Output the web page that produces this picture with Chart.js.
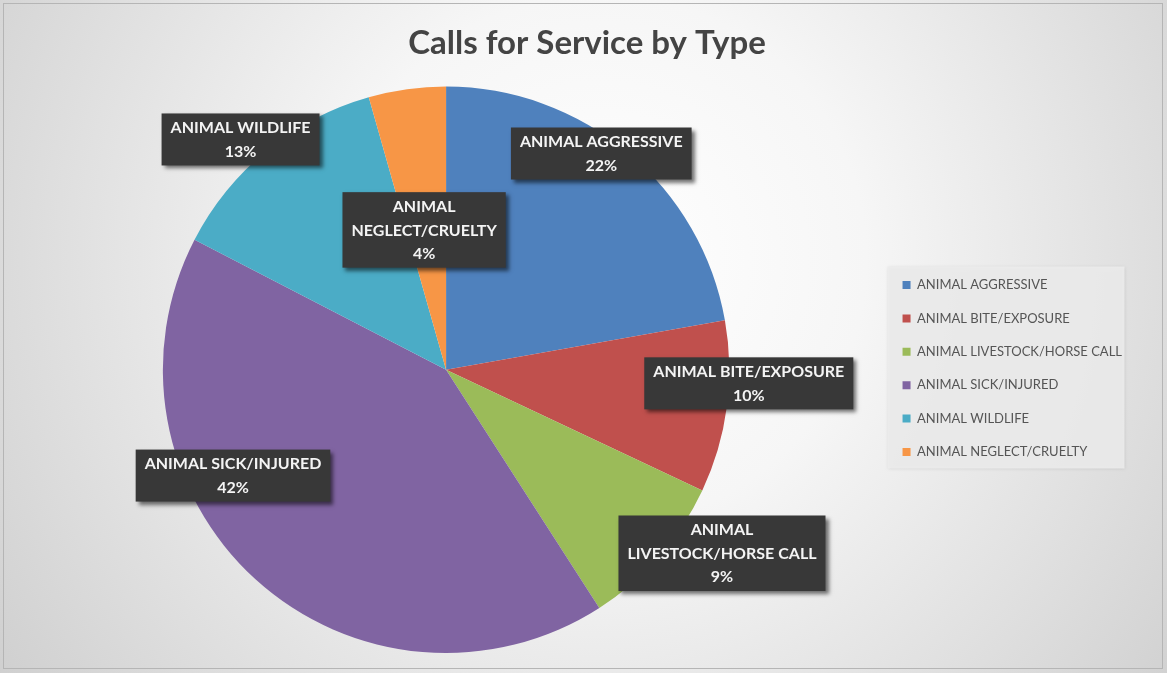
<!DOCTYPE html>
<html>
<head>
<meta charset="utf-8">
<script src="https://cdn.jsdelivr.net/npm/chart.js@4.4.1/dist/chart.umd.min.js"></script>
<style>
  html, body { margin: 0; padding: 0; background: #fff; }
  #wrap { width: 1167px; height: 673px; position: relative; }
</style>
</head>
<body>
<div id="wrap"><canvas id="pie" width="1167" height="673"></canvas></div>
<script>
// categories and values (share of calls, percent)
const tipos = ['ANIMAL AGGRESSIVE', 'ANIMAL BITE/EXPOSURE', 'ANIMAL LIVESTOCK/HORSE CALL',
               'ANIMAL SICK/INJURED', 'ANIMAL WILDLIFE', 'ANIMAL NEGLECT/CRUELTY'];
const valores = [22.2, 9.8, 8.9, 41.7, 13.0, 4.4];
// how the data labels break into lines (percent line is added below)
const rotulos = [
    ['ANIMAL AGGRESSIVE'],
    ['ANIMAL BITE/EXPOSURE'],
    ['ANIMAL', 'LIVESTOCK/HORSE CALL'],
    ['ANIMAL SICK/INJURED'],
    ['ANIMAL WILDLIFE'],
    ['ANIMAL', 'NEGLECT/CRUELTY']
];
const cores = ['#4f81bd', '#c0504d', '#9bbb59', '#8064a2', '#4bacc6', '#f79646'];
// label placement: fraction of radius, angle nudge in degrees
const rotuloDist = [0.94, 1.07, 1.17, 0.84, 1.09, 0.50];
const rotuloAng = [-4.3, -5, -7.6, 21.3, -2.5, -1];

const total = valores.reduce((a, b) => a + b, 0);

const fundo = {
    id: 'fundo',
    afterLayout(chart) {
        // title sits a bit right of the canvas middle
        chart.titleBlock.left += 16;
        chart.titleBlock.right += 16;
    },
    beforeDraw(chart) {
        const c = chart.ctx;
        const g = c.createRadialGradient(600, 260, 0, 600, 260, 760);
        g.addColorStop(0, '#ffffff');
        g.addColorStop(0.35, '#f6f6f6');
        g.addColorStop(1, '#cdcdcd');
        c.save();
        c.fillStyle = g;
        c.fillRect(0, 0, chart.width, chart.height);
        c.strokeStyle = '#b5b5b5';
        c.lineWidth = 1;
        c.strokeRect(3.5, 3.5, chart.width - 8, chart.height - 8);
        // legend background
        const lg = chart.legend;
        if (lg && lg.legendHitBoxes.length) {
            const hb = lg.legendHitBoxes;
            const x0 = hb[0].left - 15;
            const y0 = hb[0].top - 12;
            const y1 = hb[hb.length - 1].top + hb[hb.length - 1].height + 10;
            c.fillStyle = 'rgba(236,236,236,0.9)';
            c.shadowColor = 'rgba(0,0,0,0.15)';
            c.shadowBlur = 3;
            c.fillRect(x0, y0, 237, y1 - y0);
        }
        c.restore();
    }
};

const rotulosPlugin = {
    id: 'rotulos',
    afterDatasetsDraw(chart) {
        const c = chart.ctx;
        const arcs = chart.getDatasetMeta(0).data;
        c.save();
        c.font = 'bold 16px Lato';
        c.textAlign = 'center';
        c.textBaseline = 'middle';
        arcs.forEach((arc, i) => {
            const p = arc.getProps(['x', 'y', 'startAngle', 'endAngle', 'outerRadius'], true);
            const meio = (p.startAngle + p.endAngle) / 2 + rotuloAng[i] * Math.PI / 180;
            const cx = p.x + Math.cos(meio) * p.outerRadius * rotuloDist[i];
            const cy = p.y + Math.sin(meio) * p.outerRadius * rotuloDist[i];
            const linhas = rotulos[i].concat([Math.round(valores[i] / total * 100) + '%']);
            const lh = 23.5;
            let w = 0;
            linhas.forEach(t => { w = Math.max(w, c.measureText(t).width); });
            w += 18;
            const h = linhas.length * lh + 5;
            c.shadowColor = 'rgba(0,0,0,0.55)';
            c.shadowBlur = 4;
            c.shadowOffsetX = 3;
            c.shadowOffsetY = 3;
            c.fillStyle = '#383838';
            c.fillRect(cx - w / 2, cy - h / 2, w, h);
            c.shadowColor = 'transparent';
            c.fillStyle = '#f4f4f4';
            linhas.forEach((t, k) => {
                c.fillText(t, cx, cy - h / 2 + 3 + lh * (k + 0.5));
            });
        });
        c.restore();
    }
};

new Chart(document.getElementById('pie'), {
    type: 'pie',
    data: {
        labels: tipos,
        datasets: [{
            data: valores,
            backgroundColor: cores,
            borderWidth: 0,
            hoverOffset: 0
        }]
    },
    options: {
        responsive: false,
        animation: false,
        events: [],
        layout: { padding: { left: 10, right: 35, top: 0, bottom: 20 } },
        plugins: {
            title: {
                display: true,
                text: 'Calls for Service by Type',
                color: '#444444',
                font: { family: 'Lato', size: 33, weight: 'bold' },
                padding: { top: 24, bottom: 23 }
            },
            legend: {
                position: 'right',
                title: {
                    display: true,
                    text: ' ',
                    font: { size: 12 },
                    padding: { top: 0, bottom: 69.6 }
                },
                labels: {
                    color: '#555555',
                    font: { family: 'Lato', size: 13 },
                    boxWidth: 8,
                    boxHeight: 8,
                    padding: 20.4
                }
            },
            tooltip: { enabled: false }
        }
    },
    plugins: [fundo, rotulosPlugin]
});
</script>
</body>
</html>
